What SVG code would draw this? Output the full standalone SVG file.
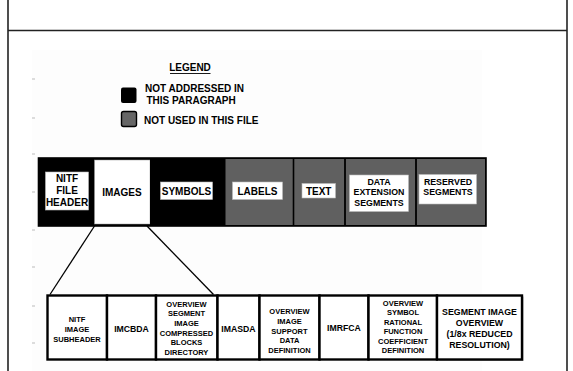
<svg xmlns="http://www.w3.org/2000/svg" width="573" height="371" viewBox="0 0 573 371">
<style>
text{font-family:"Liberation Sans",Arial,sans-serif;font-weight:bold;fill:#000;text-anchor:middle}
.l{text-anchor:start}
.frame{stroke:#222;stroke-width:1.6;fill:none}
.tick{stroke:#bbb;stroke-width:1}
.lab{fill:#fff;stroke:#bbb;stroke-width:0.6}
.gray{fill:#606060}
.blk{fill:#000}
.div{stroke:#000;stroke-width:1.6}
.cell{fill:#fff;stroke:#000;stroke-width:2.4}
.conn{stroke:#000;stroke-width:1.3;fill:none}
.t10{font-size:10px}
.t9{font-size:8.8px}
.t87{font-size:8.7px}
.t75{font-size:7.5px}
</style>
<rect x="0" y="0" width="573" height="371" fill="#fff"/>
<rect x="32" y="50" width="450" height="321" fill="#fdfdfd"/>
<g id="frame">
<line class="frame" x1="8" y1="0" x2="8" y2="371"/>
<line class="frame" x1="567" y1="0" x2="567" y2="371"/>
<line class="frame" x1="8" y1="30.5" x2="567" y2="30.5"/>
</g>
<g id="ticks">
<line class="tick" x1="32" y1="79" x2="35" y2="79"/>
<line class="tick" x1="32" y1="118" x2="35" y2="118"/>
<line class="tick" x1="32" y1="154" x2="35" y2="154"/>
<line class="tick" x1="32" y1="192" x2="35" y2="192"/>
<line class="tick" x1="32" y1="230" x2="35" y2="230"/>
<line class="tick" x1="32" y1="267" x2="35" y2="267"/>
<line class="tick" x1="32" y1="306" x2="35" y2="306"/>
<line class="tick" x1="32" y1="343" x2="35" y2="343"/>
</g>
<g id="legend">
<text class="t10" x="190" y="71">LEGEND</text>
<line x1="170" y1="73.5" x2="210.5" y2="73.5" stroke="#000" stroke-width="0.9"/>
<rect x="121" y="87.5" width="15.5" height="15.5" rx="2" fill="#000"/>
<text class="t10 l" x="145" y="91.5">NOT ADDRESSED IN</text>
<text class="t10 l" x="146.5" y="103.5">THIS PARAGRAPH</text>
<rect x="121.5" y="111.5" width="15" height="15" rx="2" fill="#666" stroke="#000" stroke-width="1.4"/>
<text class="t10 l" x="144" y="123.5">NOT USED IN THIS FILE</text>
</g>
<g id="file-bar">
<rect x="38.5" y="158" width="447.5" height="68" fill="#000" stroke="#000" stroke-width="1.6"/>
</g>
<g id="nitf-file-header">
<rect class="blk" x="39" y="158.5" width="55.5" height="67"/>
<rect class="lab" x="45.5" y="172" width="43" height="38"/>
<text class="t10" x="67" y="182">NITF</text>
<text class="t10" x="67" y="194">FILE</text>
<text class="t10" x="67" y="206">HEADER</text>
</g>
<g id="images">
<rect x="94.5" y="160" width="55.5" height="64" fill="#fff" stroke="#999" stroke-width="0.5"/>
<text class="t10" x="122" y="195.5">IMAGES</text>
</g>
<g id="symbols">
<rect class="blk" x="150" y="158.5" width="75" height="67"/>
<rect class="lab" x="160.5" y="182" width="52" height="17.5"/>
<text class="t10" x="186.5" y="195">SYMBOLS</text>
</g>
<g id="labels">
<rect class="gray" x="225.5" y="159" width="67.5" height="66"/>
<rect class="lab" x="232.5" y="182" width="50" height="17.5"/>
<text class="t10" x="257.5" y="195">LABELS</text>
</g>
<g id="text">
<rect class="gray" x="294" y="159" width="50.5" height="66"/>
<rect class="lab" x="302" y="183.5" width="33.5" height="14.5"/>
<text class="t10" x="318.7" y="194.5">TEXT</text>
</g>
<g id="data-extension-segments">
<rect class="gray" x="345.5" y="159" width="70" height="66"/>
<rect class="lab" x="349.5" y="175" width="59" height="36.5"/>
<text class="t9" x="379" y="184.5">DATA</text>
<text class="t9" x="379" y="195">EXTENSION</text>
<text class="t9" x="379" y="205.5">SEGMENTS</text>
</g>
<g id="reserved-segments">
<rect class="gray" x="416.5" y="159" width="68.5" height="66"/>
<rect class="lab" x="419" y="174.5" width="57.5" height="29.5"/>
<text class="t9" x="448" y="184.5">RESERVED</text>
<text class="t9" x="448" y="194.5">SEGMENTS</text>
</g>
<g id="bar-dividers">
<line class="div" x1="293.5" y1="158" x2="293.5" y2="226"/>
<line class="div" x1="345" y1="158" x2="345" y2="226"/>
<line class="div" x1="416" y1="158" x2="416" y2="226"/>
</g>
<g id="connectors">
<line class="conn" x1="94.5" y1="226" x2="50" y2="294.5"/>
<line class="conn" x1="147" y1="226" x2="213.5" y2="294.5"/>
</g>
<g id="nitf-image-subheader">
<rect class="cell" x="47.5" y="295.5" width="59.5" height="64"/>
<text class="t75" x="77" y="321.5">NITF</text>
<text class="t75" x="77" y="331.5">IMAGE</text>
<text class="t75" x="77" y="341.5">SUBHEADER</text>
</g>
<g id="imcbda">
<rect class="cell" x="107" y="295.5" width="49" height="64"/>
<text class="t87" x="131.5" y="331.5">IMCBDA</text>
</g>
<g id="overview-segment-image-cbd">
<rect class="cell" x="156" y="295.5" width="61.5" height="64"/>
<text class="t75" x="186.5" y="306.7">OVERVIEW</text>
<text class="t75" x="186.5" y="316.4">SEGMENT</text>
<text class="t75" x="186.5" y="326">IMAGE</text>
<text class="t75" x="186.5" y="335.7">COMPRESSED</text>
<text class="t75" x="186.5" y="345.4">BLOCKS</text>
<text class="t75" x="186.5" y="355">DIRECTORY</text>
</g>
<g id="imasda">
<rect class="cell" x="217.5" y="295.5" width="42" height="64"/>
<text class="t87" x="238.5" y="331.5">IMASDA</text>
</g>
<g id="overview-image-support-data-definition">
<rect class="cell" x="259.5" y="295.5" width="60" height="64"/>
<text class="t75" x="289.5" y="314.4">OVERVIEW</text>
<text class="t75" x="289.5" y="324">IMAGE</text>
<text class="t75" x="289.5" y="333.7">SUPPORT</text>
<text class="t75" x="289.5" y="343.2">DATA</text>
<text class="t75" x="289.5" y="352.8">DEFINITION</text>
</g>
<g id="imrfca">
<rect class="cell" x="319.5" y="295.5" width="49" height="64"/>
<text class="t87" x="344" y="330.5">IMRFCA</text>
</g>
<g id="overview-symbol-rfcd">
<rect class="cell" x="368.5" y="295.5" width="68.5" height="64"/>
<text class="t75" x="403" y="306">OVERVIEW</text>
<text class="t75" x="403" y="315.4">SYMBOL</text>
<text class="t75" x="403" y="324.8">RATIONAL</text>
<text class="t75" x="403" y="334.3">FUNCTION</text>
<text class="t75" x="403" y="343.5">COEFFICIENT</text>
<text class="t75" x="403" y="352.8">DEFINITION</text>
</g>
<g id="segment-image-overview">
<rect x="438.5" y="296.5" width="85" height="64.5" fill="#aaa"/>
<rect class="cell" x="437" y="295.5" width="85" height="64"/>
<text class="t9" x="479.5" y="315">SEGMENT IMAGE</text>
<text class="t9" x="479.5" y="326">OVERVIEW</text>
<text class="t9" x="479.5" y="336.8">(1/8x REDUCED</text>
<text class="t9" x="479.5" y="347.5">RESOLUTION)</text>
</g>
</svg>
